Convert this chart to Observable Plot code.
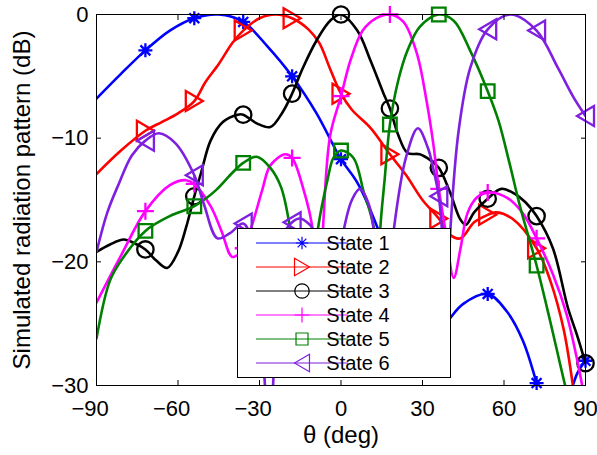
<!DOCTYPE html>
<html><head><meta charset="utf-8">
<script src="https://cdn.jsdelivr.net/npm/d3@7"></script>
<script src="https://cdn.jsdelivr.net/npm/@observablehq/plot@0.6"></script>
<style>body{margin:0;background:#fff;} #chart{position:relative;width:597px;height:455px;}</style>
</head><body><div id="chart"></div>
<script>
const stateNames = ["State 1", "State 2", "State 3", "State 4", "State 5", "State 6"];
const stateColors = ["#0000ff", "#ff0000", "#000000", "#ff00ff", "#008000", "#7f1fe0"];
const markerAngles = [-72, -54, -36, -18, 0, 18, 36, 54, 72, 90];
const xTicks = [-90, -60, -30, 0, 30, 60, 90];
const xTickLabels = ["−90", "−60", "−30", "0", "30", "60", "90"];
const yTicks = [-30, -20, -10, 0];
const yTickLabels = ["−30", "−20", "−10", "0"];
const xTitle = "θ (deg)";
const yTitle = "Simulated radiation pattern (dB)";

// State 1 (blue)
const theta1 = [-90, -81, -72, -63, -54, -45, -36, -27, -18, -9, 0, 6, 13, 20, 28, 36, 40, 45, 54, 61, 67, 72, 76, 80, 84, 87, 90];
const db1 = [-6.8, -4.8, -2.9, -1.3, -0.3, 0, -0.6, -2.6, -5.0, -8.0, -11.7, -13.6, -17.0, -21.5, -28.0, -25.8, -24.6, -23.4, -22.6, -24.0, -26.4, -29.8, -33, -34, -31.0, -29.0, -28.0];
// State 2 (red)
const theta2 = [-90, -81, -72, -66, -60, -54, -50, -45, -40, -36, -30, -24, -18, -12, -8, -4, 0, 4, 11, 18, 24, 30, 36, 40, 44, 49, 54, 57, 63, 72, 77, 82, 86, 90];
const db2 = [-12.9, -11.0, -9.4, -8.7, -8.0, -7.0, -5.5, -4.0, -2.3, -1.3, -0.3, 0, -0.3, -1.2, -2.3, -4.4, -6.4, -7.7, -9.2, -11.3, -13.0, -15.0, -16.5, -17.8, -18.1, -16.8, -16.2, -16.0, -16.5, -18.9, -21.5, -25.5, -31, -38];
// State 3 (black)
const theta3 = [-90, -85, -80, -76, -72, -68, -64, -60, -57, -54, -51.5, -48, -43.5, -38, -36, -31, -26, -21.5, -18, -14, -9, -4, 0, 6, 11, 15.5, 18, 21, 24.5, 29, 33, 36, 40, 44, 46, 49, 54, 59, 64, 68, 72, 78, 83.5, 87, 90];
const db3 = [-19.2, -18.6, -18.2, -18.5, -19.0, -19.9, -20.5, -19.2, -17.2, -14.7, -12.8, -10.2, -8.7, -8.1, -8.1, -8.8, -9.1, -7.9, -6.4, -4.3, -2.1, -0.5, 0, -1.3, -3.8, -6.3, -7.6, -9.7, -11.2, -11.3, -11.8, -12.4, -14.3, -16.6, -17.0, -16.0, -14.9, -14.1, -14.5, -15.2, -16.3, -18.9, -23.7, -26.0, -28.2];
// State 4 (magenta)
const theta4 = [-90, -81, -72, -63, -57, -54, -48, -44, -40, -36, -33, -29, -26, -20.5, -18, -14, -10.5, -8.5, -6.6, -4, 0, 3.5, 8, 13, 18, 23, 28, 31.5, 34, 36, 38.5, 41.5, 44, 46.5, 50, 54, 61, 67, 72, 78, 83, 87, 90];
const db4 = [-23.3, -19.5, -15.9, -13.8, -13.4, -13.7, -15.5, -17.5, -19.6, -18.9, -17.2, -14.2, -12.2, -11.3, -11.6, -14.0, -17.3, -27.0, -17.2, -9.8, -6.6, -3.7, -1.3, -0.3, 0, -0.6, -3.2, -7.0, -10.5, -14.1, -17.5, -21.3, -18.9, -16.1, -14.8, -14.4, -14.8, -16.1, -18.1, -21.0, -24.2, -28.0, -31.5];
// State 5 (green)
const theta5 = [-90, -85, -80, -72, -63, -54, -46, -40, -36, -31, -26, -22, -18, -13, -8.4, -5, -2.8, 0, 4.6, 8.3, 12, 13.3, 14.5, 16, 18, 21, 24.5, 29, 36, 41.5, 47.5, 54, 58, 62, 66, 72, 77, 82.5, 86, 90];
const db5 = [-26.2, -21.5, -19.6, -17.5, -16.3, -15.5, -14.2, -12.8, -12.0, -11.5, -12.4, -14.0, -18.3, -27.0, -17.2, -13.4, -11.6, -11.0, -11.6, -14.3, -17.2, -24.0, -17.2, -13.5, -8.9, -5.4, -2.9, -1.0, 0, -0.5, -2.9, -6.2, -8.6, -12.0, -15.6, -20.3, -24.8, -30.0, -33.0, -36.0];
// State 6 (purple)
const theta6 = [-90, -86, -82, -77, -72, -67, -61, -54, -50.5, -45.5, -41, -36, -33, -30.5, -28, -26.5, -25, -23, -21.5, -18, -15, -12, -10.5, -5, 0, 4, 7, 10, 12, 14.5, 18, 19.5, 24, 28.3, 32, 34, 36, 37.3, 38.5, 40.3, 43.3, 47.6, 54, 62.4, 72, 79.8, 85.6, 90];
const db6 = [-19.2, -16.0, -13.8, -11.4, -10.2, -9.6, -10.4, -13.0, -15.3, -18.1, -17.7, -16.9, -18.2, -22.5, -30, -40, -30, -22, -18.0, -16.8, -16.5, -16.9, -17.3, -28, -18.6, -15.0, -14.1, -15.2, -17.3, -28, -21.0, -17.3, -11.5, -9.2, -10.8, -12.5, -14.7, -18, -27, -17.3, -9.4, -4.3, -1.2, 0, -1.3, -4.3, -6.7, -8.2];

const series = [[theta1, db1], [theta2, db2], [theta3, db3], [theta4, db4], [theta5, db5], [theta6, db6]];
const tables = series.map(([t, v], i) => t.map((x, j) => ({state: stateNames[i], theta: x, db: v[j]})));

// marker shapes (MATLAB-like), k scales size
function triSym(dir, w, h) { return {draw(ctx) { const a = w / 2, b = h / 2; ctx.moveTo(-dir * a, -b); ctx.lineTo(dir * a, 0); ctx.lineTo(-dir * a, b); ctx.closePath(); }}; }
function circSym(r) { return {draw(ctx) { ctx.moveTo(r, 0); ctx.arc(0, 0, r, 0, 2 * Math.PI); ctx.closePath(); }}; }
function plusSym(s) { return {draw(ctx) { ctx.moveTo(-s, 0); ctx.lineTo(s, 0); ctx.moveTo(0, -s); ctx.lineTo(0, s); }}; }
function squareSym(s) { return {draw(ctx) { ctx.rect(-s, -s, 2 * s, 2 * s); }}; }
function astSym(s) { const d = s * Math.SQRT1_2; return {draw(ctx) { ctx.moveTo(-s, 0); ctx.lineTo(s, 0); ctx.moveTo(0, -s); ctx.lineTo(0, s); ctx.moveTo(-d, -d); ctx.lineTo(d, d); ctx.moveTo(-d, d); ctx.lineTo(d, -d); }}; }
function symbolsFor(k) {
  return [astSym(7 * k), triSym(1, 17 * k, 20 * k), circSym(8.2 * k), plusSym(8.5 * k), squareSym(6.8 * k), triSym(-1, 17 * k, 20 * k)];
}
const chartSymbols = symbolsFor(1);
const legendSymbols = symbolsFor(0.88);

const FONT = "Liberation Sans, Arial, Helvetica, sans-serif";
const marks = [];
tables.forEach((rows, i) => {
  marks.push(Plot.line(rows, {x: "theta", y: "db", stroke: stateColors[i], strokeWidth: 2.6, curve: "catmull-rom", clip: true}));
  marks.push(Plot.dot(rows.filter(d => markerAngles.includes(d.theta) && d.db >= -30), {x: "theta", y: "db", symbol: chartSymbols[i], stroke: stateColors[i], fill: "none", strokeWidth: 2.3}));
});

const fmtX = d => xTickLabels[xTicks.indexOf(d)];
const fmtY = d => yTickLabels[yTicks.indexOf(d)];

const chart = Plot.plot({
  width: 597, height: 455,
  marginLeft: 96, marginRight: 12, marginTop: 14, marginBottom: 70,
  style: {fontFamily: FONT, background: "white", color: "black", overflow: "visible"},
  x: {domain: [-90, 90]},
  y: {domain: [-30, 0]},
  marks: [
    ...marks,
    Plot.frame({stroke: "black", strokeWidth: 1}),
    Plot.axisX(xTicks, {anchor: "bottom", tickSize: -5, tickFormat: () => "", label: null}),
    Plot.axisX(xTicks, {anchor: "top", tickSize: -5, tickFormat: () => "", label: null}),
    Plot.axisY(yTicks, {anchor: "left", tickSize: -5, tickFormat: () => "", label: null}),
    Plot.axisY(yTicks, {anchor: "right", tickSize: -5, tickFormat: () => "", label: null}),
    Plot.axisX(xTicks.filter(d => d < 0), {anchor: "bottom", tickSize: 0, tickPadding: 15, dx: -6.4, fontSize: 22, tickFormat: fmtX, label: null}),
    Plot.axisX(xTicks.filter(d => d >= 0), {anchor: "bottom", tickSize: 0, tickPadding: 15, fontSize: 22, tickFormat: fmtX, label: null}),
    Plot.axisY(yTicks, {anchor: "left", tickSize: 0, tickPadding: 8, fontSize: 22, tickFormat: fmtY, label: null}),
    Plot.text([xTitle], {frameAnchor: "bottom", textAnchor: "middle", dy: 57, fontSize: 24}),
    Plot.text([yTitle], {frameAnchor: "left", textAnchor: "middle", dx: -74, rotate: -90, fontSize: 24})
  ]
});
document.getElementById("chart").appendChild(chart);

// legend box inside the axes
const svg = d3.select(chart);
const g = svg.append("g").attr("font-family", FONT).attr("font-size", 20);
g.append("rect").attr("x", 237.5).attr("y", 228.5).attr("width", 213).attr("height", 149)
  .attr("fill", "white").attr("stroke", "black").attr("stroke-width", 1);
stateNames.forEach((name, i) => {
  const y = 243 + i * 24;
  g.append("line").attr("x1", 256).attr("x2", 348).attr("y1", y).attr("y2", y)
    .attr("stroke", stateColors[i]).attr("stroke-width", 1.2);
  g.append("path").attr("d", d3.symbol(legendSymbols[i])()).attr("transform", `translate(302,${y})`)
    .attr("fill", "none").attr("stroke", stateColors[i]).attr("stroke-width", 1.2);
  g.append("text").attr("x", 358).attr("y", y).attr("dy", "0.36em").attr("fill", "black").text(name);
});
</script></body></html>
